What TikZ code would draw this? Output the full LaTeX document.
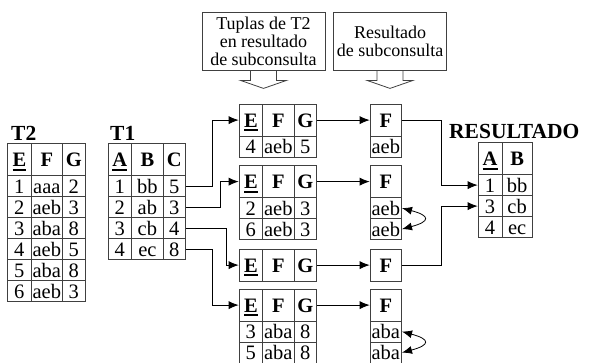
\documentclass[tikz,border=0pt]{standalone}
\usepackage{fontspec}
\setmainfont{Liberation Serif}
\usetikzlibrary{arrows.meta, matrix}
\definecolor{gridgray}{RGB}{64,64,64}

% bold key attribute with a thick underline
\newcommand{\keyattr}[1]{\setbox0\hbox{\textbf{#1}}\rlap{\copy0}\rule[-4pt]{\wd0}{2pt}}

\tikzset{
  cell/.style={draw=gridgray, line width=0.8pt, inner sep=0pt, minimum height=21pt,
               text height=14pt, text depth=0pt, font=\fontsize{20.5}{22}\selectfont},
  hcell/.style={minimum height=32pt, font=\fontsize{20.5}{22}\selectfont\bfseries},
  tbl/.style={matrix of nodes, anchor=north west, inner sep=0pt,
              column sep=-0.8pt, row sep=-0.8pt, nodes={cell},
              row 1/.style={nodes={hcell}}},
  abc/.style={column 1/.style={nodes={minimum width=23.5pt}},
              column 2/.style={nodes={minimum width=31.5pt}},
              column 3/.style={nodes={minimum width=22.5pt}}},
  fcol/.style={column 1/.style={nodes={minimum width=31.5pt}}},
  abcol/.style={column 1/.style={nodes={minimum width=24pt}},
                column 2/.style={nodes={minimum width=30pt}}},
  lbl/.style={font=\fontsize{21.5}{22}\selectfont\bfseries, inner sep=0pt, anchor=base west},
  note/.style={draw=gridgray, line width=0.8pt, align=center, inner sep=0pt,
               minimum height=58pt, font=\fontsize{18}{18}\selectfont},
  arr/.style={-{Latex[length=10pt,width=8pt]}, line width=0.8pt},
  dup/.style={{Latex[length=10pt,width=8pt]}-{Latex[length=10pt,width=8pt]}, line width=0.8pt}
}

\begin{document}
\begin{tikzpicture}[x=1pt, y=-1pt]
  \useasboundingbox (0,0) rectangle (593,362);
  \clip (0,0) rectangle (593,362);

  % source tables
  \node[lbl] (t2name) at (11,140) {T2};
  \matrix[tbl, abc] (t2) at (7,143) {
    \keyattr{E} & F & G \\
    1 & aaa & 2 \\
    2 & aeb & 3 \\
    3 & aba & 8 \\
    4 & aeb & 5 \\
    5 & aba & 8 \\
    6 & aeb & 3 \\
  };

  \node[lbl] (t1name) at (110,140) {T1};
  \matrix[tbl, abc] (t1) at (107.5,143) {
    \keyattr{A} & B & C \\
    1 & bb & 5 \\
    2 & ab & 3 \\
    3 & cb & 4 \\
    4 & ec & 8 \\
  };

  % subquery, one per row of T1
  \matrix[tbl, abc] (q1) at (238.5,103.5) {
    \keyattr{E} & F & G \\
    4 & aeb & 5 \\
  };
  \matrix[tbl, abc] (q2) at (238.5,165) {
    \keyattr{E} & F & G \\
    2 & aeb & 3 \\
    6 & aeb & 3 \\
  };
  \matrix[tbl, abc] (q3) at (238.5,248.5) {
    \keyattr{E} & F & G \\
  };
  \matrix[tbl, abc] (q4) at (238.5,288.5) {
    \keyattr{E} & F & G \\
    3 & aba & 8 \\
    5 & aba & 8 \\
  };

  \matrix[tbl, fcol] (f1) at (369.5,103.5) {
    F \\
    aeb \\
  };
  \matrix[tbl, fcol] (f2) at (369.5,165) {
    F \\
    aeb \\
    aeb \\
  };
  \matrix[tbl, fcol] (f3) at (369.5,248.5) {
    F \\
  };
  \matrix[tbl, fcol] (f4) at (369.5,288.5) {
    F \\
    aba \\
    aba \\
  };

  \node[lbl] (resname) at (449,138) {RESULTADO};
  \matrix[tbl, abcol] (res) at (477.5,142) {
    \keyattr{A} & B \\
    1 & bb \\
    3 & cb \\
    4 & ec \\
  };

  % callouts
  \node[note, minimum width=123pt] (tuplas) at (263.5,41) {Tuplas de T2\\en resultado\\de subconsulta};
  \node[note, minimum width=113.5pt] (subres) at (390,41) {Resultado\\de subconsulta};
  \foreach \n in {tuplas,subres}
    \draw[draw=gridgray, line width=0.8pt, line join=miter] (\n.south) ++(-13,0) -- ++(0,10)
      -- ++(-10,0) -- ++(23,8) -- ++(23,-8) -- ++(-10,0) -- ++(0,-10);

  % connectors
  \draw[arr] (t1-2-3.east) -- ++(26,0) |- (q1-1-1.west);
  \draw[arr] (t1-3-3.east) -- ++(34.5,0) |- (q2-1-1.west);
  \draw[arr] (t1-4-3.east) -- ++(40,0) |- (q3-1-1.west);
  \draw[arr] (t1-5-3.east) -- ++(26,0) |- (q4-1-1.west);
  \foreach \i in {1,...,4}
    \draw[arr] (q\i-1-3.east) -- (f\i-1-1.west);
  \draw[arr] (f1-1-1.east) -- ++(39,0) |- (res-2-1.west);
  \draw[arr] (f3-1-1.east) -- ++(39,0) |- (res-3-1.west);

  % duplicates
  \draw[dup] (f2-2-1.east) to[out=-15, in=15, looseness=3.6] (f2-3-1.east);
  \draw[dup] (f4-2-1.east) to[out=-15, in=15, looseness=3.6] (f4-3-1.east);
\end{tikzpicture}
\end{document}
